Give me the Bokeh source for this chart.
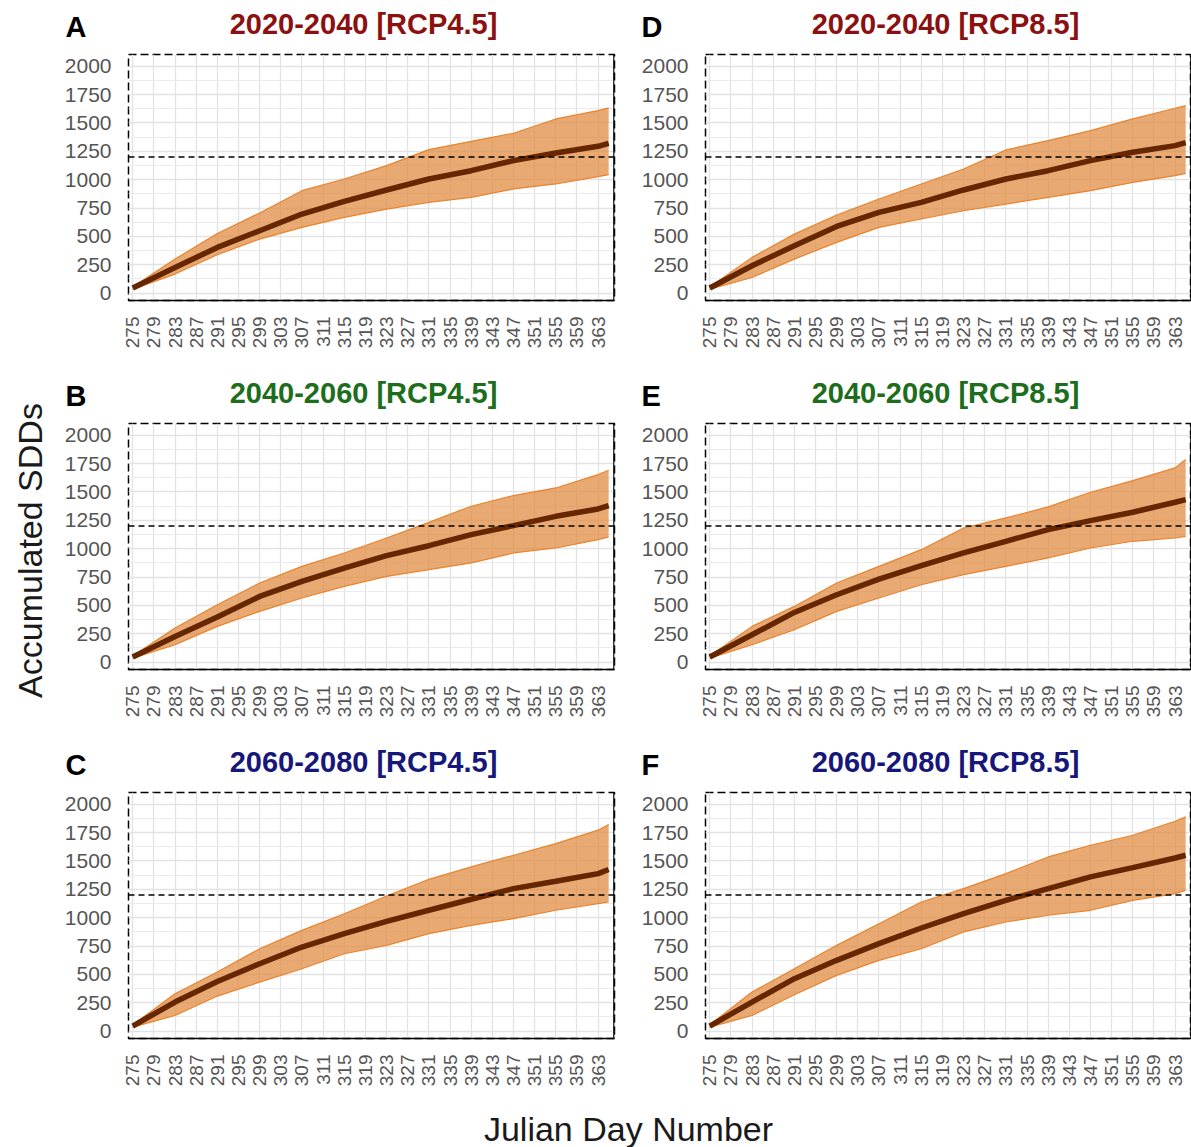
import math
from bokeh.plotting import figure
from bokeh.models import Span, Label, FixedTicker, Range1d
from bokeh.layouts import column, row
from bokeh.embed import file_html
from bokeh.resources import INLINE

FONT = "Liberation Sans"

# ---- data ----
DAYS = [275, 283, 291, 299, 307, 315, 323, 331, 339, 347, 355, 363, 365]

A_med = [45, 226, 403, 550, 697, 809, 909, 1006, 1079, 1168, 1235, 1294, 1320]
A_upp = [55, 300, 526, 706, 903, 1006, 1124, 1265, 1338, 1409, 1535, 1609, 1632]
A_low = [35, 168, 338, 476, 579, 668, 741, 800, 844, 918, 962, 1026, 1044]

B_med = [45, 226, 397, 579, 712, 829, 938, 1026, 1124, 1203, 1285, 1350, 1379]
B_upp = [55, 300, 506, 697, 844, 962, 1094, 1232, 1374, 1468, 1535, 1653, 1691]
B_low = [35, 153, 315, 447, 565, 668, 756, 815, 874, 962, 1006, 1079, 1103]

C_med = [45, 256, 438, 594, 741, 859, 968, 1065, 1162, 1256, 1321, 1388, 1424]
C_upp = [55, 329, 521, 726, 888, 1035, 1191, 1338, 1447, 1550, 1653, 1771, 1821]
C_low = [35, 138, 309, 432, 550, 682, 756, 859, 932, 991, 1065, 1124, 1138]

D_med = [45, 241, 418, 588, 712, 800, 909, 1006, 1079, 1168, 1241, 1300, 1326]
D_upp = [55, 315, 520, 688, 829, 962, 1094, 1262, 1344, 1432, 1535, 1629, 1653]
D_low = [35, 138, 300, 447, 579, 653, 726, 785, 844, 903, 976, 1035, 1056]

E_med = [45, 241, 438, 594, 732, 850, 962, 1065, 1168, 1247, 1321, 1409, 1432]
E_upp = [55, 315, 491, 697, 844, 991, 1182, 1271, 1368, 1497, 1600, 1712, 1785]
E_low = [35, 153, 285, 447, 565, 682, 771, 844, 918, 1006, 1065, 1094, 1109]

F_med = [45, 256, 462, 624, 771, 909, 1035, 1153, 1256, 1359, 1441, 1526, 1550]
F_upp = [55, 344, 550, 756, 947, 1138, 1256, 1388, 1535, 1638, 1726, 1850, 1888]
F_low = [35, 138, 321, 491, 624, 726, 874, 962, 1021, 1065, 1153, 1212, 1241]

X_TICKS = list(range(275, 364, 4))
Y_TICKS = [0, 250, 500, 750, 1000, 1250, 1500, 1750, 2000]
Y_MINOR = [125, 375, 625, 875, 1125, 1375, 1625, 1875]
THRESHOLD = 1200

ROW_LETTERS = [("A", "D"), ("B", "E"), ("C", "F")]
ROW_TITLES = [("2020-2040 [RCP4.5]", "2020-2040 [RCP8.5]"),
              ("2040-2060 [RCP4.5]", "2040-2060 [RCP8.5]"),
              ("2060-2080 [RCP4.5]", "2060-2080 [RCP8.5]")]
ROW_COLORS = ["#8B1111", "#1C6E1C", "#17177A"]
Y_LABEL = "Accumulated SDDs"
X_LABEL = "Julian Day Number"

X_START, X_END = 274.2, 366.1
Y_START, Y_END = -65, 2103
FRAME_W, FRAME_H = 486, 246
STRIP_W = 56
MAIN_W = 1191 - STRIP_W
HEAD_H = 50


def blank(width, height):
    f = figure(width=width, height=height, x_range=Range1d(0, width),
               y_range=Range1d(0, height), min_border=0, x_axis_type=None,
               y_axis_type=None, output_backend="svg", toolbar_location=None,
               outline_line_color=None, title=None)
    f.xgrid.visible = False
    f.ygrid.visible = False
    return f


def make_panel(med, upp, low, left_col):
    bl = 72 if left_col else 71
    br = 20 if left_col else 0
    p = figure(width=bl + FRAME_W + br, height=4 + FRAME_H + 69,
               x_range=Range1d(X_START, X_END), y_range=Range1d(Y_START, Y_END),
               output_backend="svg", toolbar_location=None, title=None,
               min_border_left=bl, min_border_right=br,
               min_border_top=4, min_border_bottom=69,
               background_fill_color="white", border_fill_color="white")
    p.outline_line_color = "black"
    p.outline_line_width = 1.5
    p.outline_line_dash = "8 4"

    p.xaxis.ticker = FixedTicker(ticks=X_TICKS)
    p.xaxis.major_label_orientation = math.pi / 2
    p.xaxis.major_label_text_font = FONT
    p.xaxis.major_label_text_font_size = "19px"
    p.xaxis.major_label_text_color = "#555555"
    p.xaxis.major_label_standoff = 10
    p.xaxis.axis_line_color = "black"
    p.xaxis.axis_line_width = 1.5
    p.xaxis.major_tick_line_color = None
    p.xaxis.minor_tick_line_color = None

    p.yaxis.ticker = FixedTicker(ticks=Y_TICKS, minor_ticks=Y_MINOR)
    p.yaxis.major_label_text_font = FONT
    p.yaxis.major_label_text_font_size = "21px"
    p.yaxis.major_label_text_color = "#555555"
    p.yaxis.major_label_standoff = 11
    p.yaxis.axis_line_color = None
    p.yaxis.major_tick_line_color = None
    p.yaxis.minor_tick_line_color = None

    p.xgrid.grid_line_color = "#E3E3E3"
    p.xgrid.grid_line_width = 1.3
    p.ygrid.grid_line_color = "#E3E3E3"
    p.ygrid.grid_line_width = 1.3
    p.ygrid.minor_grid_line_color = "#EBEBEB"
    p.ygrid.minor_grid_line_width = 1.1

    p.varea(x=DAYS, y1=low, y2=upp, fill_color="#E08C44", fill_alpha=0.75)
    p.line(DAYS, upp, line_color="#E8842E", line_width=1.2)
    p.line(DAYS, low, line_color="#E8842E", line_width=1.2)
    p.line(DAYS, med, line_color="#662600", line_width=5.5)

    p.add_layout(Span(location=THRESHOLD, dimension="width", line_color="black",
                      line_width=1.5, line_dash="6 4"))
    p.add_layout(Span(location=X_END - 0.1, dimension="height", line_color="black",
                      line_width=1.5))
    return p


def make_header(letters, titles, color):
    h = blank(MAIN_W, HEAD_H)
    for lx, letter in zip((9, 585), letters):
        h.add_layout(Label(x=lx, y=23.5, text=letter, text_font=FONT, text_font_style="bold",
                           text_font_size="29px", text_color="black", text_align="left",
                           text_baseline="middle"))
    for tx, title in zip((307, 889), titles):
        h.add_layout(Label(x=tx, y=26.5, text=title, text_font=FONT, text_font_style="bold",
                           text_font_size="29px", text_color=color, text_align="center",
                           text_baseline="middle"))
    return h


series = [[(A_med, A_upp, A_low), (D_med, D_upp, D_low)],
          [(B_med, B_upp, B_low), (E_med, E_upp, E_low)],
          [(C_med, C_upp, C_low), (F_med, F_upp, F_low)]]

children = []
for r in range(3):
    children.append(make_header(ROW_LETTERS[r], ROW_TITLES[r], ROW_COLORS[r]))
    left = make_panel(*series[r][0], left_col=True)
    right = make_panel(*series[r][1], left_col=False)
    children.append(row(left, right))

fx = blank(MAIN_W, 40)
fx.add_layout(Label(x=572, y=19, text=X_LABEL, text_font=FONT, text_font_size="34px",
                    text_color="#1a1a1a", text_align="center", text_baseline="middle"))
children.append(fx)

fy = blank(STRIP_W, 1147)
fy.add_layout(Label(x=29, y=597, text=Y_LABEL, angle=math.pi / 2, text_font=FONT,
                    text_font_size="34px", text_color="#1a1a1a", text_align="center",
                    text_baseline="middle"))

layout = row(fy, column(*children))

open("out.html", "w").write(file_html(layout, INLINE))
